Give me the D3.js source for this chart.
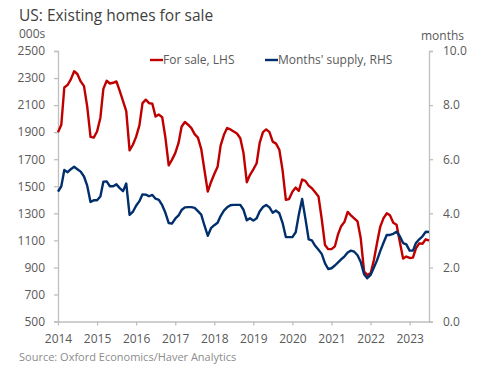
<!DOCTYPE html>
<html>
<head>
<meta charset="utf-8">
<script src="https://cdn.jsdelivr.net/npm/d3@7"></script>
<style>
  body { margin: 0; background: #fff; }
  svg text { font-family: "Open Sans", "Noto Sans", sans-serif; }
</style>
</head>
<body>
<div id="chart"></div>
<script>
// Monthly series, Jan 2014 .. Jul 2023
const startMonth = '2014-01-01';

// Existing homes for sale, 000s (LHS)
const forSale = [
  1900, 1955, 2230, 2250, 2290, 2350, 2330, 2275, 2240, 2090, 1865, 1860,
  1905, 2005, 2220, 2280, 2260, 2265, 2275, 2205, 2130, 2055, 1765, 1805,
  1865, 1950, 2115, 2140, 2115, 2110, 2015, 2030, 2010, 1860, 1655, 1695,
  1745, 1820, 1940, 1975, 1955, 1930, 1885, 1860, 1775, 1620, 1460, 1530,
  1590, 1645, 1800, 1880, 1930, 1920, 1905, 1890, 1855, 1745, 1530, 1585,
  1625, 1670, 1820, 1900, 1920, 1900, 1830, 1815, 1770, 1620, 1400, 1405,
  1460, 1490, 1465, 1550, 1540, 1505, 1485, 1455, 1425, 1260, 1065, 1035,
  1035, 1055, 1140, 1205, 1235, 1310, 1285, 1262, 1240, 1115, 870, 845,
  855, 955, 1075, 1200, 1262, 1300, 1285, 1230, 1215, 1090, 965, 980,
  970, 972, 1040, 1078, 1075, 1108, 1098
];

// Months' supply (RHS)
const monthsSupply = [
  4.80, 5.00, 5.60, 5.52, 5.63, 5.72, 5.63, 5.54, 5.36, 5.02, 4.42, 4.48,
  4.48, 4.62, 5.17, 5.18, 5.00, 5.00, 5.07, 4.93, 4.82, 5.10, 3.94, 4.05,
  4.28, 4.45, 4.70, 4.69, 4.63, 4.68, 4.54, 4.50, 4.30, 4.02, 3.64, 3.62,
  3.80, 3.92, 4.12, 4.22, 4.23, 4.23, 4.20, 4.08, 3.95, 3.55, 3.17, 3.45,
  3.56, 3.65, 3.90, 4.10, 4.22, 4.30, 4.31, 4.31, 4.31, 4.13, 3.74, 3.82,
  3.73, 3.82, 4.07, 4.23, 4.31, 4.22, 4.02, 4.10, 4.00, 3.65, 3.12, 3.12,
  3.12, 3.30, 3.95, 4.53, 3.82, 3.04, 3.00, 2.80, 2.65, 2.50, 2.15, 1.94,
  1.97, 2.07, 2.18, 2.30, 2.40, 2.55, 2.62, 2.58, 2.45, 2.20, 1.75, 1.60,
  1.72, 2.00, 2.25, 2.60, 2.90, 3.20, 3.20, 3.24, 3.32, 3.15, 2.90, 2.85,
  2.62, 2.62, 2.90, 3.04, 3.15, 3.32, 3.31
];

const yearTicks = [2014, 2015, 2016, 2017, 2018, 2019, 2020, 2021, 2022, 2023];
const leftTicks = [500, 700, 900, 1100, 1300, 1500, 1700, 1900, 2100, 2300, 2500];
const rightTicks = [0, 2, 4, 6, 8, 10];
const seriesNames = ['For sale, LHS', "Months' supply, RHS"];

class DualLineChart {
  constructor(config) {
    this.config = {
      parentElement: config.parentElement || 'body',
      width: config.width || 484,
      height: config.height || 375,
      margin: config.margin || {top: 51, right: 55, bottom: 53.5, left: 58},
      colors: config.colors || ['#c00000', '#002f6c'],
      axisColor: '#bfbfbf',
      textColor: '#595959'
    };
    this.initViz();
  }

  initViz() {
    const that = this;
    const c = that.config;

    that.boundedWidth = c.width - c.margin.left - c.margin.right;
    that.boundedHeight = c.height - c.margin.top - c.margin.bottom;

    const start = new Date(startMonth);
    that.dates = forSale.map((d, i) => d3.timeMonth.offset(start, i));

    // Scales
    that.xScale = d3.scaleTime()
      .domain([start, that.dates[that.dates.length - 1]])
      .range([0, that.boundedWidth]);
    that.yLeft = d3.scaleLinear()
      .domain([500, 2500])
      .range([that.boundedHeight, 0]);
    that.yRight = d3.scaleLinear()
      .domain([0, 10])
      .range([that.boundedHeight, 0]);

    that.svg = d3.select(c.parentElement)
      .append('svg')
        .attr('width', c.width)
        .attr('height', c.height);

    that.viz = that.svg.append('g')
      .attr('transform', `translate(${c.margin.left},${c.margin.top})`);

    // Title and axis unit labels
    that.svg.append('text')
      .attr('x', 19)
      .attr('y', 21)
      .attr('fill', '#404040')
      .style('font-size', '15.5px')
      .text('US: Existing homes for sale');
    that.svg.append('text')
      .attr('x', 19)
      .attr('y', 38)
      .attr('fill', c.textColor)
      .style('font-size', '12px')
      .text('000s');
    that.svg.append('text')
      .attr('x', 464)
      .attr('y', 40)
      .attr('text-anchor', 'end')
      .attr('fill', c.textColor)
      .style('font-size', '12px')
      .text('months');

    // Axes
    const xAxis = d3.axisBottom(that.xScale)
      .tickValues(yearTicks.map(y => new Date(y, 0, 1)))
      .tickFormat(d3.timeFormat('%Y'))
      .tickSize(4)
      .tickSizeOuter(0)
      .tickPadding(9);
    const leftAxis = d3.axisLeft(that.yLeft)
      .tickValues(leftTicks)
      .tickFormat(d3.format('d'))
      .tickSize(4)
      .tickPadding(9);
    const rightAxis = d3.axisRight(that.yRight)
      .tickValues(rightTicks)
      .tickFormat(d3.format('.1f'))
      .tickSize(4)
      .tickPadding(10);

    that.viz.append('g')
      .attr('transform', `translate(0,${that.boundedHeight})`)
      .call(xAxis);
    that.viz.append('g').call(leftAxis);
    that.viz.append('g')
      .attr('transform', `translate(${that.boundedWidth},0)`)
      .call(rightAxis);

    that.viz.selectAll('.domain, .tick line')
      .attr('stroke', c.axisColor)
      .attr('stroke-width', 1.3);
    that.viz.selectAll('.tick text')
      .attr('fill', c.textColor)
      .style('font-size', '12px');

    // Lines
    const lineLeft = d3.line()
      .x((d, i) => that.xScale(that.dates[i]))
      .y(d => that.yLeft(d));
    const lineRight = d3.line()
      .x((d, i) => that.xScale(that.dates[i]))
      .y(d => that.yRight(d));

    that.viz.append('path')
      .datum(forSale)
      .attr('fill', 'none')
      .attr('stroke', c.colors[0])
      .attr('stroke-width', 2.4)
      .attr('stroke-linejoin', 'round')
      .attr('d', lineLeft);
    that.viz.append('path')
      .datum(monthsSupply)
      .attr('fill', 'none')
      .attr('stroke', c.colors[1])
      .attr('stroke-width', 2.4)
      .attr('stroke-linejoin', 'round')
      .attr('d', lineRight);

    // Legend
    const legendX = [150, 265];
    const legend = that.svg.selectAll('.legend')
      .data(seriesNames)
      .join('g')
        .attr('class', 'legend')
        .attr('transform', (d, i) => `translate(${legendX[i]},60)`);
    legend.append('line')
      .attr('x1', 0).attr('x2', 13)
      .attr('stroke', (d, i) => c.colors[i])
      .attr('stroke-width', 2.4);
    legend.append('text')
      .attr('x', 13)
      .attr('dy', '0.35em')
      .attr('fill', c.textColor)
      .style('font-size', '12px')
      .text(d => d);

    // Source
    that.svg.append('text')
      .attr('x', 19)
      .attr('y', 361)
      .attr('fill', '#8c8c8c')
      .style('font-size', '11px')
      .text('Source: Oxford Economics/Haver Analytics');
  }
}

new DualLineChart({parentElement: '#chart'});
</script>
</body>
</html>
